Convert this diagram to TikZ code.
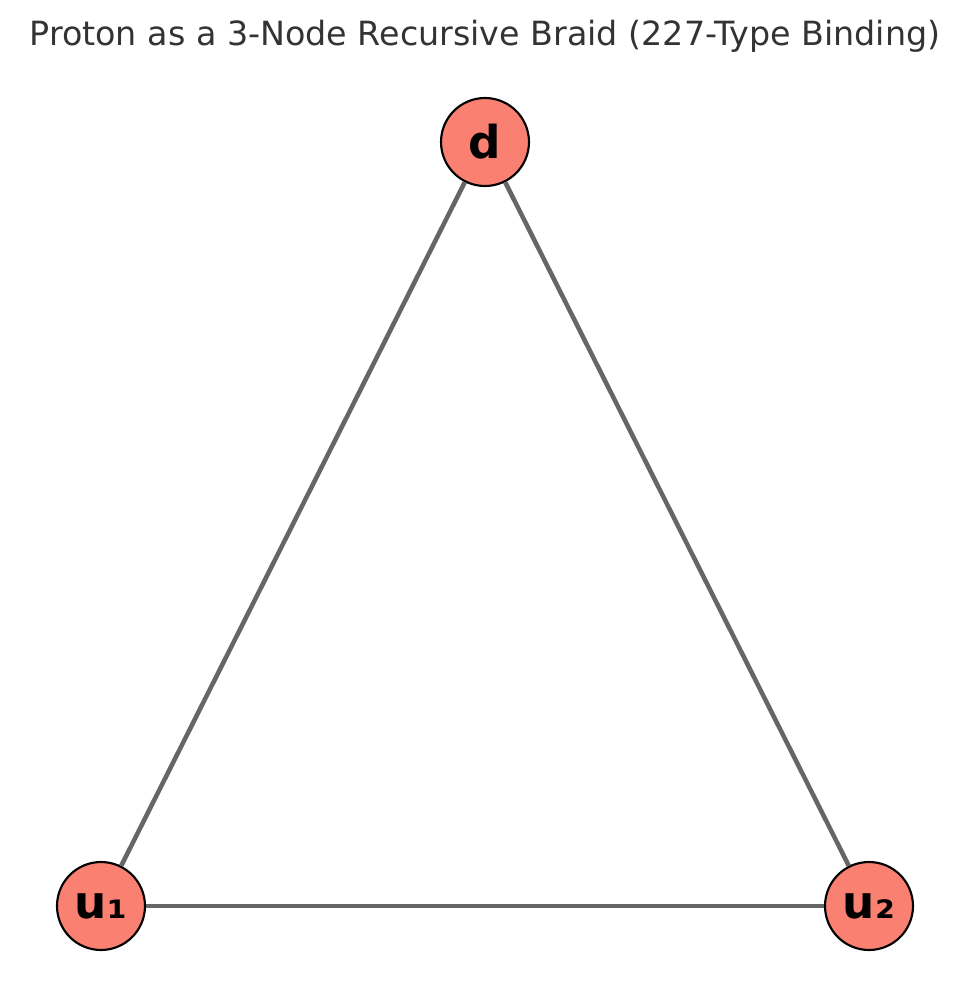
\documentclass[tikz,border=0pt]{standalone}
\usepackage{fontspec}
\setmainfont{DejaVu Sans}
\usetikzlibrary{positioning}
\definecolor{quarkc}{HTML}{FA8072}
\definecolor{edgec}{HTML}{666666}
\definecolor{titlec}{HTML}{333333}
\tikzset{
  quark/.style={circle,draw=black,line width=1.6pt,fill=quarkc,minimum size=66pt,inner sep=0pt,font=\fontsize{34}{34}\selectfont\bfseries},
  bond/.style={edgec,line width=3.4pt}
}

\begin{document}
\begin{tikzpicture}[x=0.75pt,y=-0.75pt]
  \useasboundingbox (0,0) rectangle (969,1006);
  \node[text=titlec,font=\fontsize{25}{25}\selectfont] (title) at (485,36) {Proton as a 3-Node Recursive Braid (227-Type Binding)};
  % the three quarks
  \node[quark] (d) at (485,142) {d};
  \node[quark] (u1) at (101,906) {u₁};
  \node[quark] (u2) at (869,906) {u₂};
  \draw[bond] (d) -- (u1);
  \draw[bond] (d) -- (u2);
  \draw[bond] (u1) -- (u2);
\end{tikzpicture}
\end{document}
